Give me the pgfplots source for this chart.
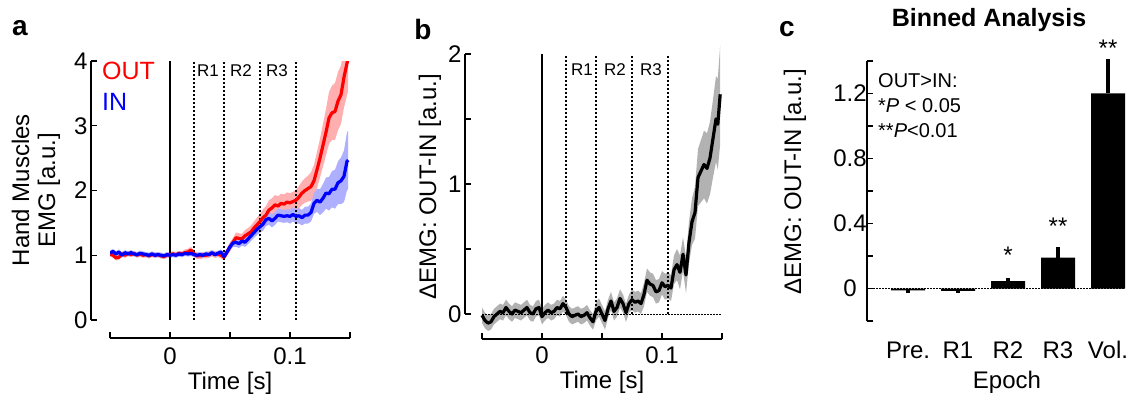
\documentclass[border=0pt]{standalone}
\usepackage{pgfplots}
\pgfplotsset{compat=1.18}
\usepackage{pgfplotstable}
\usepgfplotslibrary{fillbetween}
\usepackage{fontspec}
\setmainfont{Liberation Sans}
\definecolor{redband}{RGB}{255,175,175}
\definecolor{blueband}{RGB}{175,175,255}
\definecolor{grayband}{RGB}{178,178,178}

\pgfplotstableread{
t m e
-0.050 1.02 0.04
-0.0475 1.00 0.04
-0.045 0.96 0.04
-0.0425 0.97 0.04
-0.040 1.02 0.04
-0.0375 1.00 0.04
-0.035 1.03 0.04
-0.0325 1.01 0.04
-0.030 1.03 0.04
-0.0275 1.00 0.04
-0.025 1.02 0.04
-0.0225 1.00 0.04
-0.020 1.01 0.04
-0.0175 0.99 0.04
-0.015 1.01 0.04
-0.0125 1.00 0.04
-0.010 1.01 0.04
-0.0075 0.99 0.04
-0.005 0.98 0.04
-0.0025 1.00 0.04
0.000 1.01 0.04
0.0025 1.02 0.04
0.005 1.01 0.04
0.0075 1.03 0.04
0.010 1.02 0.04
0.0125 1.04 0.05
0.015 1.05 0.05
0.0175 1.08 0.05
0.020 1.02 0.05
0.0225 0.99 0.05
0.025 0.99 0.05
0.0275 1.00 0.05
0.030 1.00 0.05
0.0325 1.01 0.05
0.035 1.03 0.05
0.0375 1.01 0.05
0.040 1.02 0.05
0.0425 1.00 0.05
0.045 0.97 0.05
0.0475 1.05 0.06
0.050 1.13 0.07
0.0525 1.20 0.07
0.055 1.27 0.08
0.0575 1.26 0.08
0.060 1.25 0.08
0.0625 1.30 0.09
0.065 1.33 0.09
0.0675 1.36 0.10
0.070 1.42 0.10
0.0725 1.47 0.11
0.075 1.52 0.12
0.0775 1.58 0.13
0.080 1.62 0.14
0.0825 1.70 0.15
0.085 1.73 0.15
0.0875 1.78 0.15
0.090 1.76 0.15
0.0925 1.80 0.15
0.095 1.79 0.15
0.0975 1.82 0.15
0.100 1.81 0.15
0.1025 1.83 0.15
0.105 1.85 0.16
0.1075 1.90 0.17
0.110 1.96 0.18
0.1125 2.00 0.19
0.115 2.03 0.20
0.1175 2.06 0.22
0.120 2.15 0.25
0.1225 2.32 0.28
0.125 2.50 0.30
0.1275 2.70 0.33
0.130 2.90 0.36
0.1325 3.12 0.40
0.135 3.20 0.42
0.1375 3.22 0.44
0.140 3.38 0.45
0.1425 3.48 0.45
0.145 3.75 0.47
0.1485 4.05 0.50
}\outdata

\pgfplotstableread{
t m e
-0.050 1.03 0.04
-0.0475 1.06 0.04
-0.045 1.02 0.04
-0.0425 1.05 0.04
-0.040 1.00 0.04
-0.0375 1.04 0.04
-0.035 1.02 0.04
-0.0325 1.04 0.04
-0.030 1.02 0.04
-0.0275 1.01 0.04
-0.025 1.03 0.04
-0.0225 1.02 0.04
-0.020 1.01 0.04
-0.0175 1.00 0.04
-0.015 1.02 0.04
-0.0125 1.00 0.04
-0.010 1.01 0.04
-0.0075 1.00 0.04
-0.005 0.99 0.04
-0.0025 1.01 0.04
0.000 1.00 0.04
0.0025 1.01 0.04
0.005 1.00 0.04
0.0075 1.02 0.04
0.010 1.01 0.04
0.0125 1.03 0.04
0.015 1.02 0.04
0.0175 1.03 0.04
0.020 1.01 0.04
0.0225 1.00 0.04
0.025 1.01 0.04
0.0275 1.00 0.04
0.030 1.02 0.04
0.0325 1.01 0.04
0.035 1.04 0.04
0.0375 1.01 0.04
0.040 1.03 0.04
0.0425 1.05 0.04
0.045 0.98 0.05
0.0475 1.05 0.05
0.050 1.13 0.06
0.0525 1.19 0.06
0.055 1.20 0.07
0.0575 1.18 0.07
0.060 1.22 0.07
0.0625 1.20 0.07
0.065 1.25 0.08
0.0675 1.30 0.08
0.070 1.35 0.08
0.0725 1.40 0.09
0.075 1.44 0.09
0.0775 1.48 0.10
0.080 1.55 0.10
0.0825 1.57 0.10
0.085 1.53 0.10
0.0875 1.57 0.10
0.090 1.62 0.10
0.0925 1.61 0.10
0.095 1.60 0.10
0.0975 1.61 0.10
0.100 1.60 0.11
0.1025 1.63 0.11
0.105 1.60 0.11
0.1075 1.61 0.12
0.110 1.58 0.12
0.1125 1.62 0.13
0.115 1.62 0.13
0.1175 1.66 0.14
0.120 1.80 0.16
0.1225 1.85 0.18
0.125 1.82 0.20
0.1275 1.88 0.22
0.130 1.96 0.24
0.1325 1.95 0.26
0.135 2.02 0.28
0.1375 2.02 0.30
0.140 2.12 0.33
0.1425 2.15 0.36
0.145 2.22 0.40
0.1475 2.45 0.45
0.1485 2.47 0.45
}\indata

\pgfplotstableread{
t m e
-0.050 -0.01 0.06
-0.0475 -0.05 0.06
-0.045 -0.07 0.06
-0.0425 -0.06 0.06
-0.040 -0.02 0.06
-0.0375 0.00 0.06
-0.035 0.02 0.06
-0.0325 0.01 0.06
-0.030 0.05 0.06
-0.0275 0.02 0.06
-0.025 0.00 0.06
-0.0225 0.03 0.06
-0.020 0.02 0.06
-0.0175 0.01 0.06
-0.015 0.03 0.06
-0.0125 0.05 0.06
-0.010 0.01 0.06
-0.0075 0.00 0.06
-0.005 0.04 0.06
-0.0025 0.05 0.06
0.000 -0.02 0.06
0.0025 0.01 0.06
0.005 0.03 0.06
0.0075 0.01 0.06
0.010 0.02 0.06
0.0125 0.05 0.06
0.015 0.04 0.06
0.0175 0.08 0.06
0.020 0.05 0.06
0.0225 0.00 0.06
0.025 -0.02 0.06
0.0275 -0.01 0.06
0.030 0.00 0.06
0.0325 -0.02 0.06
0.035 -0.01 0.06
0.0375 0.01 0.06
0.040 -0.03 0.06
0.0425 -0.06 0.06
0.045 0.02 0.07
0.0475 0.05 0.07
0.050 0.00 0.07
0.0525 -0.05 0.07
0.055 0.04 0.07
0.0575 0.10 0.07
0.060 0.02 0.07
0.0625 0.05 0.07
0.065 0.12 0.07
0.0675 0.08 0.07
0.070 0.01 0.07
0.0725 0.08 0.07
0.075 0.11 0.08
0.0775 0.09 0.08
0.080 0.10 0.08
0.0825 0.08 0.08
0.085 0.15 0.09
0.0875 0.26 0.09
0.090 0.23 0.09
0.0925 0.22 0.09
0.095 0.17 0.09
0.0975 0.18 0.09
0.100 0.24 0.09
0.1025 0.21 0.10
0.105 0.22 0.10
0.1075 0.20 0.10
0.110 0.34 0.11
0.1125 0.38 0.12
0.115 0.32 0.13
0.1175 0.46 0.13
0.120 0.30 0.14
0.1225 0.55 0.16
0.125 0.71 0.18
0.1275 0.78 0.20
0.130 1.05 0.22
0.1325 1.10 0.24
0.135 1.15 0.26
0.1375 1.12 0.27
0.140 1.20 0.28
0.1425 1.35 0.30
0.145 1.50 0.33
0.1465 1.46 0.35
0.1485 1.69 0.38
}\diffdata

\pgfplotstableread{
x y ep em
1 -0.012 0 0.015
2 -0.015 0 0.015
3 0.045 0.02 0
4 0.19 0.065 0
5 1.20 0.215 0
}\bardata

\pgfplotsset{
  mystyle/.style={
    scale only axis,
    axis x line=bottom, axis y line=left,
    axis line style={-, line width=1.3pt},
    tick align=inside, major tick length=6pt,
    tick style={black, line width=1.2pt},
    ticklabel style={font=\fontsize{24}{28}\selectfont},
  },
  vline/.style={black, line width=1.4pt, dash pattern=on 2pt off 2pt},
}

\begin{document}
\begin{tikzpicture}

% ---------- panel a
\begin{axis}[mystyle,
  at={(110pt,74pt)}, anchor=south west,
  width=240pt, height=259pt,
  xmin=-0.05, xmax=0.15, ymin=0, ymax=4,
  axis x line shift=18pt, axis y line shift=19pt,
  xtick={-0.05,0,0.05,0.1,0.15}, xticklabels={,0,,0.1,},
  xticklabel style={yshift=-6pt},
  ytick={0,1,2,3,4}, yticklabels={0,1,2,3,4},
]
\addplot[draw=none, name path=rU, forget plot] table[x=t, y expr=\thisrow{m}+\thisrow{e}] {\outdata};
\addplot[draw=none, name path=rL, forget plot] table[x=t, y expr=\thisrow{m}-\thisrow{e}] {\outdata};
\addplot[fill=redband, draw=none] fill between[of=rU and rL];
\addplot[draw=none, name path=bU, forget plot] table[x=t, y expr=\thisrow{m}+\thisrow{e}] {\indata};
\addplot[draw=none, name path=bL, forget plot] table[x=t, y expr=\thisrow{m}-\thisrow{e}] {\indata};
\addplot[fill=blueband, draw=none] fill between[of=bU and bL];
\addplot[black, line width=1.2pt] coordinates {(0,0) (0,4)};
\addplot[vline] coordinates {(0.02,0) (0.02,4)};
\addplot[vline] coordinates {(0.045,0) (0.045,4)};
\addplot[vline] coordinates {(0.075,0) (0.075,4)};
\addplot[vline] coordinates {(0.105,0) (0.105,4)};
\addplot[red, line width=3.2pt, line join=round] table[x=t, y=m] {\outdata};
\addplot[blue, line width=3.2pt, line join=round] table[x=t, y=m] {\indata};
\end{axis}

% ---------- panel b
\begin{axis}[mystyle,
  at={(482pt,80pt)}, anchor=south west,
  width=240pt, height=260pt,
  xmin=-0.05, xmax=0.15, ymin=0, ymax=2,
  axis x line shift=25pt, axis y line shift=17pt,
  xtick={-0.05,0,0.05,0.1,0.15}, xticklabels={,0,,0.1,},
  xticklabel style={yshift=-4pt},
  ytick={0,0.5,1,1.5,2}, yticklabels={0,,1,,2},
  clip=false,
]
\addplot[black, line width=1pt, dash pattern=on 1.5pt off 1.5pt] coordinates {(-0.05,0) (0.15,0)};
\addplot[draw=none, name path=kU, forget plot] table[x=t, y expr=\thisrow{m}+\thisrow{e}] {\diffdata};
\addplot[draw=none, name path=kL, forget plot] table[x=t, y expr=\thisrow{m}-\thisrow{e}] {\diffdata};
\addplot[fill=grayband, draw=none] fill between[of=kU and kL];
\addplot[black, line width=1.2pt] coordinates {(0,0) (0,2)};
\addplot[vline] coordinates {(0.02,0) (0.02,2)};
\addplot[vline] coordinates {(0.045,0) (0.045,2)};
\addplot[vline] coordinates {(0.075,0) (0.075,2)};
\addplot[vline] coordinates {(0.105,0) (0.105,2)};
\addplot[black, line width=3.2pt, line join=round] table[x=t, y=m] {\diffdata};
\end{axis}

% ---------- panel c
\begin{axis}[mystyle,
  at={(867pt,73pt)}, anchor=south west,
  width=263pt, height=260pt,
  xmin=0.18, xmax=5.44, ymin=-0.2, ymax=1.4,
  x axis line style={draw=none},
  xtick={1,2,3,4,5}, xticklabels={Pre.,R1,R2,R3,Vol.},
  xtick style={draw=none},
  xticklabel style={yshift=-17pt},
  ytick={-0.2,0,0.2,0.4,0.6,0.8,1.0,1.2,1.4},
  yticklabels={,0,,0.4,,0.8,,1.2,},
  yticklabel style={anchor=center, xshift=-17pt},
  clip=false,
]
\addplot[black, line width=1pt, dash pattern=on 1.5pt off 1.5pt] coordinates {(0.18,0) (5.34,0)};
\addplot[ybar, bar width=34pt, fill=black, draw=none,
  error bars/.cd, y dir=both, y explicit,
  error bar style={line width=3.5pt, black}, error mark=none]
  table[x=x, y=y, y error plus=ep, y error minus=em] {\bardata};
\end{axis}

% ---------- texts
\begin{scope}[every node/.style={inner sep=0pt}]
\node[font=\fontsize{28}{30}\selectfont\bfseries] at (20pt,366pt) {a};
\node[font=\fontsize{28}{30}\selectfont\bfseries] at (423pt,365pt) {b};
\node[font=\fontsize{28}{30}\selectfont\bfseries] at (787pt,365pt) {c};
\node[font=\fontsize{25}{28}\selectfont\bfseries] at (989pt,374pt) {Binned Analysis};

\node[font=\fontsize{24}{26}\selectfont, rotate=90, align=center] at (36pt,204pt) {Hand Muscles\\EMG [a.u.]};
\node[font=\fontsize{24}{26}\selectfont, rotate=90] at (430pt,207pt) {ΔEMG: OUT-IN [a.u.]};
\node[font=\fontsize{24}{26}\selectfont, rotate=90] at (795pt,212pt) {ΔEMG: OUT-IN [a.u.]};

\node[font=\fontsize{24}{26}\selectfont] at (230pt,11pt) {Time [s]};
\node[font=\fontsize{24}{26}\selectfont] at (602pt,12pt) {Time [s]};
\node[font=\fontsize{24}{26}\selectfont] at (1007pt,12pt) {Epoch};

\node[font=\fontsize{25}{28}\selectfont, text=red, anchor=west] at (102pt,323pt) {OUT};
\node[font=\fontsize{25}{28}\selectfont, text=blue, anchor=west] at (102pt,292pt) {IN};

\node[font=\fontsize{17}{19}\selectfont] at (208pt,323pt) {R1};
\node[font=\fontsize{17}{19}\selectfont] at (241pt,323pt) {R2};
\node[font=\fontsize{17}{19}\selectfont] at (277pt,323pt) {R3};
\node[font=\fontsize{17}{19}\selectfont] at (582pt,324pt) {R1};
\node[font=\fontsize{17}{19}\selectfont] at (615pt,324pt) {R2};
\node[font=\fontsize{17}{19}\selectfont] at (651pt,324pt) {R3};

\node[font=\fontsize{20}{22}\selectfont, anchor=base west] at (878pt,306pt) {OUT>IN:};
\node[font=\fontsize{20}{22}\selectfont, anchor=base west] at (878pt,281pt) {*\textit{P} < 0.05};
\node[font=\fontsize{20}{22}\selectfont, anchor=base west] at (878pt,256pt) {**\textit{P}<0.01};

\node[font=\fontsize{24}{26}\selectfont, anchor=north] at (1008pt,147pt) {*};
\node[font=\fontsize{24}{26}\selectfont, anchor=north] at (1058pt,176pt) {**};
\node[font=\fontsize{24}{26}\selectfont, anchor=north] at (1108pt,354pt) {**};
\end{scope}

\pgfresetboundingbox
\useasboundingbox (0pt,0pt) rectangle (1130pt,394pt);
\end{tikzpicture}
\end{document}
